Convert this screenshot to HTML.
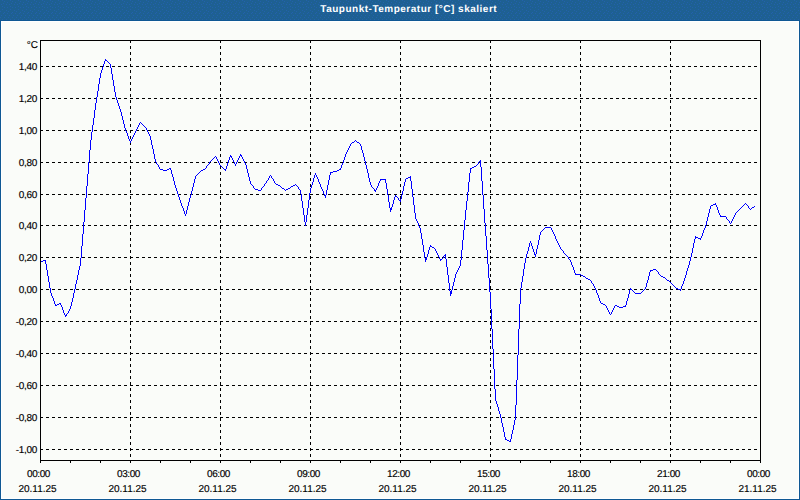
<!DOCTYPE html>
<html><head><meta charset="utf-8"><style>
html,body{margin:0;padding:0;}
body{width:800px;height:500px;position:relative;overflow:hidden;background:#fafcf9;font-family:"Liberation Sans",sans-serif;}
#tb{position:absolute;left:0;top:0;width:800px;height:20px;background:#1e6092;border-bottom:1px solid #0f5894;}
#tt{position:absolute;left:320.3px;top:4px;color:#fff;font-weight:bold;font-size:10px;letter-spacing:0.5px;text-rendering:geometricPrecision;line-height:12px;white-space:nowrap;}
#bl{position:absolute;left:0;top:20px;width:1px;height:480px;background:#0f5894;}
#wb{position:absolute;left:1px;top:21px;width:796px;height:476px;border:1px solid #fff;}
#br{position:absolute;left:799px;top:20px;width:1px;height:480px;background:#0f5894;}
#bb{position:absolute;left:0;top:499px;width:800px;height:1px;background:#0f5894;}
.yl{position:absolute;right:763px;font-size:10px;line-height:12px;color:#000;white-space:nowrap;text-align:right;letter-spacing:-0.3px;}
.tl{letter-spacing:-0.4px;}
.yl,.xl,#dc{text-rendering:geometricPrecision;-webkit-text-stroke:0.15px #000;}
.xl{position:absolute;width:78px;text-align:center;font-size:10px;line-height:12px;color:#000;white-space:nowrap;}
#dc{position:absolute;right:762px;top:40px;font-size:10px;line-height:12px;}
svg{position:absolute;left:0;top:0;}
</style></head><body>
<div id="tb"><svg width="800" height="20" shape-rendering="crispEdges"><defs><pattern id="dp" width="8" height="20" patternUnits="userSpaceOnUse"><rect x="2" y="0" width="1" height="1" fill="#2361ac"/><rect x="4" y="1" width="1" height="1" fill="#2361ac"/><rect x="7" y="2" width="1" height="1" fill="#2361ac"/><rect x="3" y="3" width="1" height="1" fill="#2361ac"/><rect x="1" y="4" width="1" height="1" fill="#2361ac"/><rect x="6" y="4" width="1" height="1" fill="#2361ac"/><rect x="2" y="6" width="1" height="1" fill="#2361ac"/><rect x="4" y="7" width="1" height="1" fill="#2361ac"/><rect x="7" y="7" width="1" height="1" fill="#2361ac"/><rect x="2" y="9" width="1" height="1" fill="#2361ac"/><rect x="6" y="10" width="1" height="1" fill="#2361ac"/><rect x="0" y="11" width="1" height="1" fill="#2361ac"/><rect x="4" y="12" width="1" height="1" fill="#2361ac"/><rect x="3" y="13" width="1" height="1" fill="#2361ac"/><rect x="7" y="13" width="1" height="1" fill="#2361ac"/><rect x="1" y="15" width="1" height="1" fill="#2361ac"/><rect x="5" y="15" width="1" height="1" fill="#2361ac"/><rect x="0" y="17" width="1" height="1" fill="#2361ac"/><rect x="4" y="17" width="1" height="1" fill="#2361ac"/><rect x="2" y="19" width="1" height="1" fill="#2361ac"/><rect x="6" y="19" width="1" height="1" fill="#2361ac"/></pattern></defs><rect width="800" height="20" fill="url(#dp)"/></svg></div><div id="tt">Taupunkt-Temperatur [°C] skaliert</div>
<div id="wb"></div><div id="bl"></div><div id="br"></div><div id="bb"></div>
<svg width="800" height="500" shape-rendering="crispEdges"><line x1="40" y1="66.5" x2="760" y2="66.5" stroke="#000" stroke-dasharray="3 3"/><line x1="40" y1="98.5" x2="760" y2="98.5" stroke="#000" stroke-dasharray="3 3"/><line x1="40" y1="130.5" x2="760" y2="130.5" stroke="#000" stroke-dasharray="3 3"/><line x1="40" y1="162.5" x2="760" y2="162.5" stroke="#000" stroke-dasharray="3 3"/><line x1="40" y1="194.5" x2="760" y2="194.5" stroke="#000" stroke-dasharray="3 3"/><line x1="40" y1="225.5" x2="760" y2="225.5" stroke="#000" stroke-dasharray="3 3"/><line x1="40" y1="257.5" x2="760" y2="257.5" stroke="#000" stroke-dasharray="3 3"/><line x1="40" y1="289.5" x2="760" y2="289.5" stroke="#000" stroke-dasharray="3 3"/><line x1="40" y1="321.5" x2="760" y2="321.5" stroke="#000" stroke-dasharray="3 3"/><line x1="40" y1="353.5" x2="760" y2="353.5" stroke="#000" stroke-dasharray="3 3"/><line x1="40" y1="385.5" x2="760" y2="385.5" stroke="#000" stroke-dasharray="3 3"/><line x1="40" y1="417.5" x2="760" y2="417.5" stroke="#000" stroke-dasharray="3 3"/><line x1="40" y1="449.5" x2="760" y2="449.5" stroke="#000" stroke-dasharray="3 3"/><line x1="130.5" y1="40" x2="130.5" y2="460" stroke="#000" stroke-dasharray="3 3"/><line x1="220.5" y1="40" x2="220.5" y2="460" stroke="#000" stroke-dasharray="3 3"/><line x1="310.5" y1="40" x2="310.5" y2="460" stroke="#000" stroke-dasharray="3 3"/><line x1="400.5" y1="40" x2="400.5" y2="460" stroke="#000" stroke-dasharray="3 3"/><line x1="490.5" y1="40" x2="490.5" y2="460" stroke="#000" stroke-dasharray="3 3"/><line x1="580.5" y1="40" x2="580.5" y2="460" stroke="#000" stroke-dasharray="3 3"/><line x1="670.5" y1="40" x2="670.5" y2="460" stroke="#000" stroke-dasharray="3 3"/><line x1="40.5" y1="460" x2="40.5" y2="463" stroke="#000"/><line x1="70.5" y1="460" x2="70.5" y2="463" stroke="#000"/><line x1="100.5" y1="460" x2="100.5" y2="463" stroke="#000"/><line x1="130.5" y1="460" x2="130.5" y2="463" stroke="#000"/><line x1="160.5" y1="460" x2="160.5" y2="463" stroke="#000"/><line x1="190.5" y1="460" x2="190.5" y2="463" stroke="#000"/><line x1="220.5" y1="460" x2="220.5" y2="463" stroke="#000"/><line x1="250.5" y1="460" x2="250.5" y2="463" stroke="#000"/><line x1="280.5" y1="460" x2="280.5" y2="463" stroke="#000"/><line x1="310.5" y1="460" x2="310.5" y2="463" stroke="#000"/><line x1="340.5" y1="460" x2="340.5" y2="463" stroke="#000"/><line x1="370.5" y1="460" x2="370.5" y2="463" stroke="#000"/><line x1="400.5" y1="460" x2="400.5" y2="463" stroke="#000"/><line x1="430.5" y1="460" x2="430.5" y2="463" stroke="#000"/><line x1="460.5" y1="460" x2="460.5" y2="463" stroke="#000"/><line x1="490.5" y1="460" x2="490.5" y2="463" stroke="#000"/><line x1="520.5" y1="460" x2="520.5" y2="463" stroke="#000"/><line x1="550.5" y1="460" x2="550.5" y2="463" stroke="#000"/><line x1="580.5" y1="460" x2="580.5" y2="463" stroke="#000"/><line x1="610.5" y1="460" x2="610.5" y2="463" stroke="#000"/><line x1="640.5" y1="460" x2="640.5" y2="463" stroke="#000"/><line x1="670.5" y1="460" x2="670.5" y2="463" stroke="#000"/><line x1="700.5" y1="460" x2="700.5" y2="463" stroke="#000"/><line x1="730.5" y1="460" x2="730.5" y2="463" stroke="#000"/><line x1="760.5" y1="460" x2="760.5" y2="463" stroke="#000"/><rect x="40.5" y="40.5" width="720" height="420" fill="none" stroke="#000"/><path d="M41 261h1v1h-1zM42 261h1v1h-1zM43 260h1v1h-1zM44 260h1v1h-1zM45 260h1v4h-1zM46 264h1v6h-1zM47 270h1v6h-1zM48 276h1v6h-1zM49 282h1v6h-1zM50 288h1v5h-1zM51 293h1v3h-1zM52 296h1v2h-1zM53 298h1v3h-1zM54 301h1v3h-1zM55 304h1v2h-1zM56 305h1v1h-1zM57 304h1v1h-1zM58 304h1v1h-1zM59 303h1v1h-1zM60 303h1v2h-1zM61 305h1v2h-1zM62 307h1v3h-1zM63 310h1v3h-1zM64 313h1v2h-1zM65 315h1v2h-1zM66 314h1v2h-1zM67 313h1v1h-1zM68 311h1v2h-1zM69 309h1v2h-1zM70 306h1v3h-1zM71 302h1v4h-1zM72 298h1v4h-1zM73 293h1v5h-1zM74 289h1v4h-1zM75 284h1v5h-1zM76 280h1v4h-1zM77 275h1v5h-1zM78 270h1v5h-1zM79 266h1v4h-1zM80 258h1v8h-1zM81 246h1v12h-1zM82 234h1v12h-1zM83 222h1v12h-1zM84 210h1v12h-1zM85 198h1v12h-1zM86 186h1v12h-1zM87 174h1v12h-1zM88 162h1v12h-1zM89 150h1v12h-1zM90 140h1v10h-1zM91 132h1v8h-1zM92 125h1v7h-1zM93 118h1v7h-1zM94 110h1v8h-1zM95 103h1v7h-1zM96 97h1v6h-1zM97 91h1v6h-1zM98 84h1v7h-1zM99 78h1v6h-1zM100 73h1v5h-1zM101 70h1v3h-1zM102 67h1v3h-1zM103 64h1v3h-1zM104 61h1v3h-1zM105 59h1v2h-1zM106 60h1v1h-1zM107 61h1v1h-1zM108 62h1v1h-1zM109 63h1v1h-1zM110 64h1v4h-1zM111 68h1v6h-1zM112 74h1v6h-1zM113 80h1v6h-1zM114 86h1v6h-1zM115 92h1v5h-1zM116 97h1v3h-1zM117 100h1v3h-1zM118 103h1v3h-1zM119 106h1v3h-1zM120 109h1v3h-1zM121 112h1v4h-1zM122 116h1v4h-1zM123 120h1v4h-1zM124 124h1v4h-1zM125 128h1v3h-1zM126 131h1v2h-1zM127 133h1v3h-1zM128 136h1v3h-1zM129 139h1v2h-1zM130 141h1v2h-1zM131 139h1v2h-1zM132 137h1v2h-1zM133 135h1v2h-1zM134 133h1v2h-1zM135 131h1v2h-1zM136 129h1v2h-1zM137 127h1v2h-1zM138 125h1v2h-1zM139 123h1v2h-1zM140 122h1v1h-1zM141 123h1v1h-1zM142 124h1v1h-1zM143 125h1v1h-1zM144 126h1v1h-1zM145 127h1v1h-1zM146 128h1v2h-1zM147 130h1v2h-1zM148 132h1v2h-1zM149 134h1v2h-1zM150 136h1v4h-1zM151 140h1v5h-1zM152 145h1v4h-1zM153 149h1v5h-1zM154 154h1v5h-1zM155 159h1v3h-1zM156 162h1v2h-1zM157 164h1v1h-1zM158 165h1v2h-1zM159 167h1v2h-1zM160 169h1v1h-1zM161 169h1v1h-1zM162 169h1v1h-1zM163 170h1v1h-1zM164 170h1v1h-1zM165 170h1v1h-1zM166 170h1v1h-1zM167 169h1v1h-1zM168 169h1v1h-1zM169 168h1v1h-1zM170 168h1v2h-1zM171 170h1v4h-1zM172 174h1v3h-1zM173 177h1v4h-1zM174 181h1v4h-1zM175 185h1v3h-1zM176 188h1v3h-1zM177 191h1v3h-1zM178 194h1v3h-1zM179 197h1v3h-1zM180 200h1v3h-1zM181 203h1v3h-1zM182 206h1v2h-1zM183 208h1v3h-1zM184 211h1v3h-1zM185 214h1v2h-1zM186 210h1v4h-1zM187 206h1v4h-1zM188 202h1v4h-1zM189 198h1v4h-1zM190 195h1v3h-1zM191 191h1v4h-1zM192 187h1v4h-1zM193 183h1v4h-1zM194 179h1v4h-1zM195 176h1v3h-1zM196 175h1v1h-1zM197 174h1v1h-1zM198 173h1v1h-1zM199 172h1v1h-1zM200 171h1v1h-1zM201 170h1v1h-1zM202 170h1v1h-1zM203 169h1v1h-1zM204 169h1v1h-1zM205 168h1v1h-1zM206 166h1v2h-1zM207 165h1v1h-1zM208 164h1v1h-1zM209 162h1v2h-1zM210 161h1v1h-1zM211 160h1v1h-1zM212 159h1v1h-1zM213 158h1v1h-1zM214 157h1v1h-1zM215 156h1v1h-1zM216 157h1v2h-1zM217 159h1v2h-1zM218 161h1v2h-1zM219 163h1v2h-1zM220 165h1v1h-1zM221 166h1v1h-1zM222 167h1v1h-1zM223 168h1v1h-1zM224 169h1v1h-1zM225 169h1v2h-1zM226 166h1v3h-1zM227 163h1v3h-1zM228 160h1v3h-1zM229 157h1v3h-1zM230 155h1v2h-1zM231 156h1v2h-1zM232 158h1v2h-1zM233 160h1v2h-1zM234 162h1v2h-1zM235 164h1v2h-1zM236 162h1v2h-1zM237 160h1v2h-1zM238 158h1v2h-1zM239 156h1v2h-1zM240 154h1v2h-1zM241 155h1v2h-1zM242 157h1v2h-1zM243 159h1v2h-1zM244 161h1v2h-1zM245 163h1v2h-1zM246 165h1v4h-1zM247 169h1v4h-1zM248 173h1v4h-1zM249 177h1v4h-1zM250 181h1v3h-1zM251 184h1v1h-1zM252 185h1v1h-1zM253 186h1v2h-1zM254 188h1v1h-1zM255 189h1v1h-1zM256 189h1v1h-1zM257 189h1v1h-1zM258 190h1v1h-1zM259 190h1v1h-1zM260 190h1v1h-1zM261 188h1v2h-1zM262 187h1v1h-1zM263 186h1v1h-1zM264 184h1v2h-1zM265 183h1v1h-1zM266 181h1v2h-1zM267 180h1v1h-1zM268 178h1v2h-1zM269 176h1v2h-1zM270 175h1v1h-1zM271 176h1v2h-1zM272 178h1v1h-1zM273 179h1v2h-1zM274 181h1v2h-1zM275 183h1v1h-1zM276 184h1v1h-1zM277 184h1v1h-1zM278 185h1v1h-1zM279 185h1v1h-1zM280 186h1v1h-1zM281 187h1v1h-1zM282 188h1v1h-1zM283 188h1v1h-1zM284 189h1v1h-1zM285 190h1v1h-1zM286 189h1v1h-1zM287 189h1v1h-1zM288 188h1v1h-1zM289 188h1v1h-1zM290 187h1v1h-1zM291 186h1v1h-1zM292 186h1v1h-1zM293 185h1v1h-1zM294 185h1v1h-1zM295 184h1v1h-1zM296 185h1v1h-1zM297 186h1v1h-1zM298 187h1v2h-1zM299 189h1v1h-1zM300 190h1v4h-1zM301 194h1v7h-1zM302 201h1v7h-1zM303 208h1v7h-1zM304 215h1v7h-1zM305 222h1v4h-1zM306 215h1v7h-1zM307 208h1v7h-1zM308 200h1v8h-1zM309 193h1v7h-1zM310 188h1v5h-1zM311 185h1v3h-1zM312 182h1v3h-1zM313 178h1v4h-1zM314 175h1v3h-1zM315 173h1v2h-1zM316 175h1v2h-1zM317 177h1v2h-1zM318 179h1v3h-1zM319 182h1v2h-1zM320 184h1v3h-1zM321 187h1v2h-1zM322 189h1v2h-1zM323 191h1v3h-1zM324 194h1v2h-1zM325 195h1v3h-1zM326 190h1v5h-1zM327 185h1v5h-1zM328 180h1v5h-1zM329 175h1v5h-1zM330 172h1v3h-1zM331 172h1v1h-1zM332 172h1v1h-1zM333 171h1v1h-1zM334 171h1v1h-1zM335 171h1v1h-1zM336 171h1v1h-1zM337 170h1v1h-1zM338 170h1v1h-1zM339 169h1v1h-1zM340 168h1v2h-1zM341 165h1v3h-1zM342 163h1v2h-1zM343 160h1v3h-1zM344 157h1v3h-1zM345 154h1v3h-1zM346 152h1v2h-1zM347 150h1v2h-1zM348 148h1v2h-1zM349 146h1v2h-1zM350 144h1v2h-1zM351 143h1v1h-1zM352 142h1v1h-1zM353 142h1v1h-1zM354 141h1v1h-1zM355 140h1v1h-1zM356 141h1v1h-1zM357 142h1v1h-1zM358 142h1v1h-1zM359 143h1v1h-1zM360 144h1v2h-1zM361 146h1v4h-1zM362 150h1v3h-1zM363 153h1v4h-1zM364 157h1v4h-1zM365 161h1v4h-1zM366 165h1v4h-1zM367 169h1v4h-1zM368 173h1v5h-1zM369 178h1v4h-1zM370 182h1v3h-1zM371 185h1v2h-1zM372 187h1v1h-1zM373 188h1v1h-1zM374 189h1v2h-1zM375 190h1v2h-1zM376 188h1v2h-1zM377 186h1v2h-1zM378 183h1v3h-1zM379 181h1v2h-1zM380 179h1v2h-1zM381 179h1v1h-1zM382 179h1v1h-1zM383 179h1v1h-1zM384 179h1v1h-1zM385 179h1v4h-1zM386 183h1v6h-1zM387 189h1v6h-1zM388 195h1v7h-1zM389 202h1v6h-1zM390 208h1v4h-1zM391 207h1v3h-1zM392 204h1v3h-1zM393 200h1v4h-1zM394 197h1v3h-1zM395 195h1v2h-1zM396 196h1v1h-1zM397 197h1v1h-1zM398 198h1v2h-1zM399 200h1v1h-1zM400 199h1v3h-1zM401 195h1v4h-1zM402 191h1v4h-1zM403 186h1v5h-1zM404 182h1v4h-1zM405 179h1v3h-1zM406 178h1v1h-1zM407 178h1v1h-1zM408 177h1v1h-1zM409 177h1v1h-1zM410 176h1v5h-1zM411 181h1v8h-1zM412 189h1v8h-1zM413 197h1v8h-1zM414 205h1v8h-1zM415 213h1v6h-1zM416 219h1v2h-1zM417 221h1v2h-1zM418 223h1v3h-1zM419 226h1v2h-1zM420 228h1v5h-1zM421 233h1v6h-1zM422 239h1v6h-1zM423 245h1v7h-1zM424 252h1v6h-1zM425 258h1v4h-1zM426 257h1v3h-1zM427 254h1v3h-1zM428 250h1v4h-1zM429 247h1v3h-1zM430 245h1v2h-1zM431 246h1v1h-1zM432 247h1v1h-1zM433 247h1v1h-1zM434 248h1v1h-1zM435 249h1v2h-1zM436 251h1v2h-1zM437 253h1v2h-1zM438 255h1v2h-1zM439 257h1v2h-1zM440 259h1v2h-1zM441 259h1v1h-1zM442 258h1v1h-1zM443 256h1v2h-1zM444 255h1v1h-1zM445 254h1v5h-1zM446 259h1v8h-1zM447 267h1v8h-1zM448 275h1v8h-1zM449 283h1v8h-1zM450 291h1v5h-1zM451 290h1v4h-1zM452 286h1v4h-1zM453 282h1v4h-1zM454 278h1v4h-1zM455 274h1v4h-1zM456 272h1v2h-1zM457 270h1v2h-1zM458 268h1v2h-1zM459 266h1v2h-1zM460 260h1v6h-1zM461 250h1v10h-1zM462 240h1v10h-1zM463 230h1v10h-1zM464 220h1v10h-1zM465 210h1v10h-1zM466 201h1v9h-1zM467 192h1v9h-1zM468 182h1v10h-1zM469 173h1v9h-1zM470 168h1v5h-1zM471 168h1v1h-1zM472 167h1v1h-1zM473 167h1v1h-1zM474 166h1v1h-1zM475 166h1v1h-1zM476 165h1v1h-1zM477 164h1v1h-1zM478 162h1v2h-1zM479 161h1v1h-1zM480 160h1v7h-1zM481 167h1v14h-1zM482 181h1v14h-1zM483 195h1v14h-1zM484 209h1v14h-1zM485 223h1v13h-1zM486 236h1v14h-1zM487 250h1v14h-1zM488 264h1v14h-1zM489 278h1v14h-1zM490 292h1v17h-1zM491 309h1v20h-1zM492 329h1v20h-1zM493 349h1v20h-1zM494 369h1v20h-1zM495 389h1v12h-1zM496 401h1v3h-1zM497 404h1v3h-1zM498 407h1v4h-1zM499 411h1v3h-1zM500 414h1v4h-1zM501 418h1v5h-1zM502 423h1v4h-1zM503 427h1v5h-1zM504 432h1v5h-1zM505 437h1v3h-1zM506 439h1v1h-1zM507 440h1v1h-1zM508 440h1v1h-1zM509 441h1v1h-1zM510 439h1v3h-1zM511 434h1v5h-1zM512 430h1v4h-1zM513 425h1v5h-1zM514 420h1v5h-1zM515 405h1v15h-1zM516 380h1v25h-1zM517 355h1v25h-1zM518 329h1v26h-1zM519 304h1v25h-1zM520 288h1v16h-1zM521 282h1v6h-1zM522 276h1v6h-1zM523 269h1v7h-1zM524 263h1v6h-1zM525 258h1v5h-1zM526 254h1v4h-1zM527 251h1v3h-1zM528 247h1v4h-1zM529 243h1v4h-1zM530 241h1v2h-1zM531 243h1v3h-1zM532 246h1v3h-1zM533 249h1v3h-1zM534 252h1v3h-1zM535 254h1v3h-1zM536 249h1v5h-1zM537 245h1v4h-1zM538 240h1v5h-1zM539 235h1v5h-1zM540 232h1v3h-1zM541 231h1v1h-1zM542 230h1v1h-1zM543 229h1v1h-1zM544 228h1v1h-1zM545 227h1v1h-1zM546 227h1v1h-1zM547 227h1v1h-1zM548 227h1v1h-1zM549 227h1v1h-1zM550 227h1v1h-1zM551 228h1v2h-1zM552 230h1v2h-1zM553 232h1v2h-1zM554 234h1v2h-1zM555 236h1v3h-1zM556 239h1v2h-1zM557 241h1v2h-1zM558 243h1v2h-1zM559 245h1v2h-1zM560 247h1v2h-1zM561 249h1v1h-1zM562 250h1v1h-1zM563 251h1v2h-1zM564 253h1v1h-1zM565 254h1v1h-1zM566 255h1v1h-1zM567 256h1v1h-1zM568 257h1v2h-1zM569 259h1v1h-1zM570 260h1v2h-1zM571 262h1v3h-1zM572 265h1v2h-1zM573 267h1v3h-1zM574 270h1v3h-1zM575 273h1v2h-1zM576 274h1v1h-1zM577 274h1v1h-1zM578 274h1v1h-1zM579 274h1v1h-1zM580 274h1v1h-1zM581 275h1v1h-1zM582 275h1v1h-1zM583 276h1v1h-1zM584 276h1v1h-1zM585 277h1v1h-1zM586 278h1v1h-1zM587 278h1v1h-1zM588 279h1v1h-1zM589 279h1v1h-1zM590 280h1v1h-1zM591 281h1v2h-1zM592 283h1v1h-1zM593 284h1v2h-1zM594 286h1v2h-1zM595 288h1v2h-1zM596 290h1v3h-1zM597 293h1v2h-1zM598 295h1v3h-1zM599 298h1v3h-1zM600 301h1v2h-1zM601 303h1v1h-1zM602 303h1v1h-1zM603 304h1v1h-1zM604 304h1v1h-1zM605 305h1v1h-1zM606 306h1v2h-1zM607 308h1v2h-1zM608 310h1v2h-1zM609 312h1v2h-1zM610 314h1v1h-1zM611 312h1v2h-1zM612 310h1v2h-1zM613 308h1v2h-1zM614 306h1v2h-1zM615 305h1v1h-1zM616 305h1v1h-1zM617 306h1v1h-1zM618 306h1v1h-1zM619 307h1v1h-1zM620 307h1v1h-1zM621 307h1v1h-1zM622 307h1v1h-1zM623 306h1v1h-1zM624 306h1v1h-1zM625 305h1v2h-1zM626 301h1v4h-1zM627 298h1v3h-1zM628 294h1v4h-1zM629 290h1v4h-1zM630 288h1v2h-1zM631 289h1v1h-1zM632 290h1v1h-1zM633 291h1v1h-1zM634 292h1v1h-1zM635 293h1v1h-1zM636 293h1v1h-1zM637 293h1v1h-1zM638 293h1v1h-1zM639 293h1v1h-1zM640 293h1v1h-1zM641 292h1v1h-1zM642 291h1v1h-1zM643 290h1v1h-1zM644 289h1v1h-1zM645 287h1v2h-1zM646 283h1v4h-1zM647 280h1v3h-1zM648 276h1v4h-1zM649 272h1v4h-1zM650 270h1v2h-1zM651 270h1v1h-1zM652 270h1v1h-1zM653 269h1v1h-1zM654 269h1v1h-1zM655 269h1v1h-1zM656 270h1v1h-1zM657 271h1v1h-1zM658 272h1v2h-1zM659 274h1v1h-1zM660 275h1v1h-1zM661 276h1v1h-1zM662 276h1v1h-1zM663 277h1v1h-1zM664 277h1v1h-1zM665 278h1v1h-1zM666 279h1v1h-1zM667 280h1v1h-1zM668 280h1v1h-1zM669 281h1v1h-1zM670 282h1v1h-1zM671 283h1v1h-1zM672 284h1v1h-1zM673 285h1v1h-1zM674 286h1v1h-1zM675 287h1v1h-1zM676 288h1v1h-1zM677 288h1v1h-1zM678 289h1v1h-1zM679 289h1v1h-1zM680 289h1v2h-1zM681 286h1v3h-1zM682 284h1v2h-1zM683 281h1v3h-1zM684 278h1v3h-1zM685 275h1v3h-1zM686 271h1v4h-1zM687 268h1v3h-1zM688 265h1v3h-1zM689 261h1v4h-1zM690 257h1v4h-1zM691 253h1v4h-1zM692 248h1v5h-1zM693 243h1v5h-1zM694 239h1v4h-1zM695 236h1v3h-1zM696 237h1v1h-1zM697 237h1v1h-1zM698 238h1v1h-1zM699 238h1v1h-1zM700 238h1v2h-1zM701 236h1v2h-1zM702 233h1v3h-1zM703 230h1v3h-1zM704 228h1v2h-1zM705 225h1v3h-1zM706 221h1v4h-1zM707 217h1v4h-1zM708 213h1v4h-1zM709 209h1v4h-1zM710 206h1v3h-1zM711 205h1v1h-1zM712 205h1v1h-1zM713 204h1v1h-1zM714 204h1v1h-1zM715 203h1v2h-1zM716 205h1v2h-1zM717 207h1v3h-1zM718 210h1v3h-1zM719 213h1v2h-1zM720 215h1v2h-1zM721 216h1v1h-1zM722 216h1v1h-1zM723 216h1v1h-1zM724 216h1v1h-1zM725 216h1v1h-1zM726 217h1v2h-1zM727 219h1v1h-1zM728 220h1v1h-1zM729 221h1v2h-1zM730 223h1v1h-1zM731 221h1v2h-1zM732 219h1v2h-1zM733 217h1v2h-1zM734 215h1v2h-1zM735 213h1v2h-1zM736 212h1v1h-1zM737 211h1v1h-1zM738 210h1v1h-1zM739 209h1v1h-1zM740 208h1v1h-1zM741 207h1v1h-1zM742 206h1v1h-1zM743 205h1v1h-1zM744 204h1v1h-1zM745 203h1v1h-1zM746 204h1v1h-1zM747 205h1v1h-1zM748 206h1v2h-1zM749 208h1v1h-1zM750 209h1v1h-1zM751 208h1v1h-1zM752 207h1v1h-1zM753 207h1v1h-1zM754 206h1v1h-1z" fill="#0000ff"/></svg>
<div id="dc">°C</div>
<div class="yl" style="top:62px">1,40</div><div class="yl" style="top:94px">1,20</div><div class="yl" style="top:126px">1,00</div><div class="yl" style="top:158px">0,80</div><div class="yl" style="top:190px">0,60</div><div class="yl" style="top:221px">0,40</div><div class="yl" style="top:253px">0,20</div><div class="yl" style="top:285px">0,00</div><div class="yl" style="top:317px">-0,20</div><div class="yl" style="top:349px">-0,40</div><div class="yl" style="top:381px">-0,60</div><div class="yl" style="top:413px">-0,80</div><div class="yl" style="top:445px">-1,00</div>
<div class="xl tl" style="left:-0.5px;top:469px">00:00</div><div class="xl" style="left:-1.5px;top:484px">20.11.25</div><div class="xl tl" style="left:89.5px;top:469px">03:00</div><div class="xl" style="left:88.5px;top:484px">20.11.25</div><div class="xl tl" style="left:179.5px;top:469px">06:00</div><div class="xl" style="left:178.5px;top:484px">20.11.25</div><div class="xl tl" style="left:269.5px;top:469px">09:00</div><div class="xl" style="left:268.5px;top:484px">20.11.25</div><div class="xl tl" style="left:359.5px;top:469px">12:00</div><div class="xl" style="left:358.5px;top:484px">20.11.25</div><div class="xl tl" style="left:449.5px;top:469px">15:00</div><div class="xl" style="left:448.5px;top:484px">20.11.25</div><div class="xl tl" style="left:539.5px;top:469px">18:00</div><div class="xl" style="left:538.5px;top:484px">20.11.25</div><div class="xl tl" style="left:629.5px;top:469px">21:00</div><div class="xl" style="left:628.5px;top:484px">20.11.25</div><div class="xl tl" style="left:719.5px;top:469px">00:00</div><div class="xl" style="left:718.5px;top:484px">21.11.25</div>
</body></html>
